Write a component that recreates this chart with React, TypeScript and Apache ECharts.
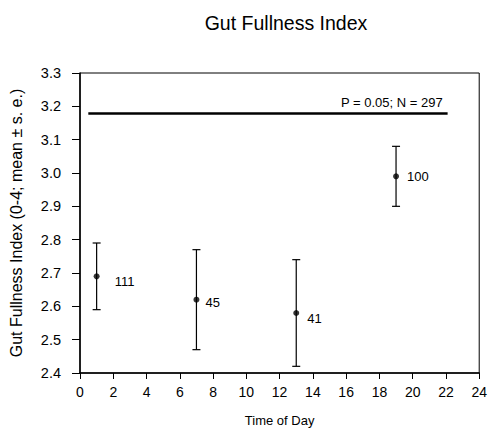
import React, { useEffect, useRef } from "react";
import * as echarts from "echarts";

const times = [1, 7, 13, 19];
const means = [2.69, 2.62, 2.58, 2.99];
const lows = [2.59, 2.47, 2.42, 2.9];
const highs = [2.79, 2.77, 2.74, 3.08];
const counts = ["111", "45", "41", "100"];
const refLine = { y: 3.18, x0: 0.5, x1: 22.1, text: "P = 0.05; N = 297" };
const xTicks = { min: 0, max: 24, interval: 2 };
const yTicks = { min: 2.4, max: 3.3, interval: 0.1 };
const labelOffsets = [[18, 5], [9, 3], [11, 5], [11, 0]];

const FONT = "'Liberation Sans', Arial, sans-serif";

export default function App() {
  const ref = useRef<HTMLDivElement>(null);
  useEffect(() => {
    if (!ref.current) return;
    const chart = echarts.init(ref.current, null, { renderer: "svg" });
    chart.setOption({
      animation: false,
      backgroundColor: "#fff",
      textStyle: { fontFamily: FONT, color: "#000" },
      title: {
        text: "Gut Fullness Index",
        left: 281,
        textAlign: "center",
        top: 8,
        textStyle: { fontFamily: FONT, fontSize: 19.5, fontWeight: "normal", color: "#000" },
      },
      grid: {
        left: 76,
        right: 9,
        top: 73,
        bottom: 64,
        show: true,
        borderColor: "#000",
        borderWidth: 1,
        backgroundColor: "transparent",
      },
      xAxis: {
        type: "value",
        min: xTicks.min,
        max: xTicks.max,
        interval: xTicks.interval,
        name: "Time of Day",
        nameLocation: "middle",
        nameGap: 41,
        nameTextStyle: { fontFamily: FONT, fontSize: 13, color: "#000" },
        axisLine: { show: true, lineStyle: { color: "#000", width: 1.5 } },
        axisTick: { show: true, length: 6, lineStyle: { color: "#000" } },
        axisLabel: { fontFamily: FONT, fontSize: 14, color: "#000", margin: 12 },
        splitLine: { show: false },
      },
      yAxis: {
        type: "value",
        min: yTicks.min,
        max: yTicks.max,
        interval: yTicks.interval,
        name: "Gut Fullness Index (0-4; mean ± s. e.)",
        nameLocation: "middle",
        nameGap: 56,
        nameTextStyle: { fontFamily: FONT, fontSize: 16, color: "#000" },
        axisLine: { show: true, lineStyle: { color: "#000", width: 1.5 } },
        axisTick: { show: true, length: 8, lineStyle: { color: "#000" } },
        axisLabel: {
          fontFamily: FONT,
          fontSize: 14.5,
          color: "#000",
          margin: 19,
          formatter: (v: number) => v.toFixed(1),
        },
        splitLine: { show: false },
      },
      series: [
        {
          type: "custom",
          data: times.map((t, i) => [t, lows[i], highs[i], means[i], i]),
          renderItem: (params: any, api: any) => {
            const x = api.value(0);
            const lo = api.coord([x, api.value(1)]);
            const hi = api.coord([x, api.value(2)]);
            const mid = api.coord([x, api.value(3)]);
            const idx = api.value(4);
            const cap = 4;
            const style = { stroke: "#000", lineWidth: 1.2 };
            return {
              type: "group",
              children: [
                { type: "line", shape: { x1: lo[0], y1: lo[1], x2: hi[0], y2: hi[1] }, style },
                { type: "line", shape: { x1: lo[0] - cap, y1: lo[1], x2: lo[0] + cap, y2: lo[1] }, style },
                { type: "line", shape: { x1: hi[0] - cap, y1: hi[1], x2: hi[0] + cap, y2: hi[1] }, style },
                {
                  type: "text",
                  x: mid[0] + labelOffsets[idx][0],
                  y: mid[1] + labelOffsets[idx][1],
                  style: {
                    text: counts[idx],
                    fill: "#000",
                    font: `13px ${FONT}`,
                    textAlign: "left",
                    textVerticalAlign: "middle",
                  },
                },
              ],
            };
          },
          z: 2,
        },
        {
          type: "scatter",
          symbol: "circle",
          symbolSize: 6,
          itemStyle: { color: "#000" },
          data: times.map((t, i) => [t, means[i]]),
          z: 3,
        },
        {
          type: "line",
          data: [],
          markLine: {
            silent: true,
            symbol: "none",
            lineStyle: { color: "#000", width: 2.5, type: "solid" },
            label: {
              show: true,
              position: "insideEndTop",
              formatter: refLine.text,
              fontFamily: FONT,
              fontSize: 13,
              color: "#000",
              distance: [5, 4],
            },
            data: [
              [
                { coord: [refLine.x0, refLine.y] },
                { coord: [refLine.x1, refLine.y] },
              ],
            ],
          },
        },
      ],
    });
    return () => chart.dispose();
  }, []);
  return (
    <div
      ref={ref}
      style={{ position: "fixed", left: 0, top: 0, width: 490, height: 437 }}
    />
  );
}
